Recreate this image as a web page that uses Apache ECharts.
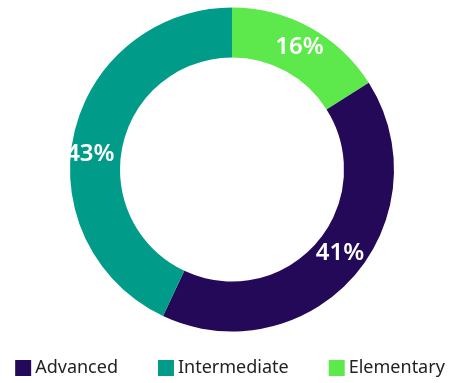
<!DOCTYPE html>
<html>
<head>
<meta charset="utf-8">
<script src="https://cdn.jsdelivr.net/npm/echarts@6/dist/echarts.min.js"></script>
<style>
  html, body { margin: 0; padding: 0; background: #fff; }
  #chart { width: 460px; height: 383px; }
</style>
</head>
<body>
<div id="chart"></div>
<script>
// Skill levels, in drawing order (clockwise from 12 o'clock)
const levels = ['Elementary', 'Advanced', 'Intermediate'];
const shares = [16, 41, 43];
// Legend order
const legendOrder = ['Advanced', 'Intermediate', 'Elementary'];

const palette = {
  Elementary: '#5DE94B',
  Advanced: '#230957',
  Intermediate: '#009C89'
};
// Small nudges so the labels sit where they read best inside the ring
const labelNudge = {
  Elementary: [0, 0],
  Advanced: [3, -9],
  Intermediate: [-5, 15]
};

const chart = echarts.init(document.getElementById('chart'), null, { renderer: 'canvas' });

chart.setOption({
  animation: false,
  legend: {
    data: legendOrder,
    top: 354,
    left: 'center',
    icon: 'rect',
    itemWidth: 16,
    itemHeight: 16,
    itemGap: 40,
    selectedMode: false,
    textStyle: {
      fontFamily: 'Noto Sans',
      fontSize: 18,
      color: '#222222',
      padding: [0, 0, 0, -1]
    }
  },
  series: [{
    type: 'pie',
    center: [232, 169.5],
    radius: [112, 162],
    startAngle: 90,
    clockwise: true,
    avoidLabelOverlap: false,
    silent: true,
    label: {
      show: true,
      position: 'inside',
      formatter: '{c}%',
      color: '#ffffff',
      fontFamily: 'Noto Sans',
      fontWeight: 600,
      fontSize: 24
    },
    labelLine: { show: false },
    itemStyle: { borderWidth: 0 },
    data: levels.map((name, i) => ({
      name: name,
      value: shares[i],
      itemStyle: { color: palette[name] },
      label: { offset: labelNudge[name] }
    }))
  }]
});
</script>
</body>
</html>
